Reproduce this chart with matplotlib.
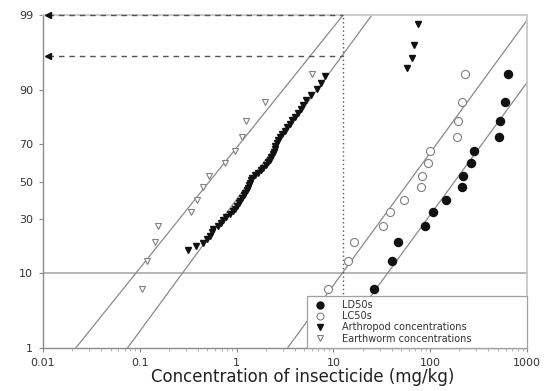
import numpy as np
import matplotlib
matplotlib.use("Agg")
import matplotlib.pyplot as plt
from matplotlib.lines import Line2D
from statistics import NormalDist

# ---- data -------------------------------------------------------------
rank_pct = [6.7, 13.3, 20.0, 26.7, 33.3, 40.0, 46.7, 53.3, 60.0, 66.7, 73.3, 80.0, 86.7, 93.3]

ld50_conc = [26.2, 40.2, 46.3, 87.7, 108, 144, 214, 218, 266, 286, 515, 528, 594, 638]
lc50_conc = [8.85, 14.2, 16.4, 32.5, 38.3, 53.3, 80.0, 81.6, 95.0, 98.6, 191, 196, 215, 231]
earthworm_conc = [0.106, 0.120, 0.145, 0.155, 0.339, 0.390, 0.450, 0.518,
                  0.757, 0.959, 1.13, 1.24, 1.95, 6.06]

arthropod_pct = [16.9, 18.3, 19.7, 21.1, 22.5, 23.9, 25.4, 26.8, 28.2, 29.6,
                 31.0, 32.4, 33.8, 35.2, 36.6, 38.0, 39.4, 40.8, 42.3, 43.7,
                 45.1, 46.5, 47.9, 49.3, 50.7, 52.1, 53.5, 54.9, 56.3, 57.7,
                 59.2, 60.6, 62.0, 63.4, 64.8, 66.2, 67.6, 69.0, 70.4, 71.8,
                 73.2, 74.6, 76.1, 77.5, 78.9, 80.3, 81.7, 83.1, 84.5, 85.9,
                 87.3, 88.7, 90.1, 91.5, 93.0, 94.4, 95.8, 97.2, 98.6]
arthropod_conc = [0.315, 0.381, 0.450, 0.494, 0.531, 0.556, 0.570, 0.641, 0.688, 0.721,
                  0.774, 0.851, 0.914, 0.959, 1.005, 1.054, 1.092, 1.13, 1.185, 1.213,
                  1.27, 1.30, 1.334, 1.367, 1.40, 1.432, 1.54, 1.65, 1.77, 1.86,
                  1.995, 2.09, 2.19, 2.27, 2.35, 2.44, 2.47, 2.52, 2.59, 2.68,
                  2.78, 2.91, 3.13, 3.35, 3.52, 3.77, 4.05, 4.35, 4.67, 4.90,
                  5.26, 5.92, 6.82, 7.50, 8.24, 57.3, 64.4, 67.6, 74.3]

# fitted log-probit lines, given by their 1 % and 99 % concentrations
fit_pct = [1, 99]
earthworm_fit = [0.0218, 12.6]
arthropod_fit = [0.0746, 25.0]
lc50_fit = [3.36, 1096]
ld50_fit = [9.86, 3240]

soil_conc = 12.6            # reference soil concentration
protect_levels = [99, 96]
hazard_level = 10

x_ticks = [0.01, 0.1, 1, 10, 100, 1000]
x_tick_labels = ["0.01", "0.1", "1", "10", "100", "1000"]
y_ticks = [1, 10, 30, 50, 70, 90, 99]
y_tick_labels = ["1", "10", "30", "50", "70", "90", "99"]

# ---- probit scale -----------------------------------------------------
_nd = NormalDist()
_ppf = np.vectorize(_nd.inv_cdf, otypes=[float])
_cdf = np.vectorize(_nd.cdf, otypes=[float])


def probit_fwd(p):
    p = np.clip(np.asarray(p, dtype=float) / 100.0, 1e-9, 1 - 1e-9)
    return _ppf(p)


def probit_inv(z):
    return _cdf(np.asarray(z, dtype=float)) * 100.0


# ---- figure -----------------------------------------------------------
plt.rcParams["font.family"] = ["DejaVu Sans"]
fig = plt.figure(figsize=(5.44, 3.91), dpi=100)
ax = fig.add_axes([43 / 544, 1 - 348 / 391, (527 - 43) / 544, (348 - 15) / 391])
ax.set_xscale("log")
ax.set_yscale("function", functions=(probit_fwd, probit_inv))
ax.set_xlim(0.01, 1000)
ax.set_ylim(1, 99)

line_kw = dict(color="#8a8a8a", lw=0.9, zorder=2)
ax.plot(earthworm_fit, fit_pct, **line_kw)
ax.plot(arthropod_fit, fit_pct, **line_kw)
ax.plot(lc50_fit, fit_pct, **line_kw)
ax.plot(ld50_fit, fit_pct, **line_kw)

ax.axhline(hazard_level, color="#b0b0b0", lw=1.3, zorder=1)

# reference concentration and the protection levels it gives
ax.plot([soil_conc, soil_conc], [1, 99], color="#555555", lw=1.0,
        ls=(0, (1, 2)), zorder=3)
for lvl in protect_levels:
    ax.plot([0.0112, soil_conc], [lvl, lvl], color="#555555", lw=1.0,
            ls=(0, (4, 3.5)), zorder=3, clip_on=False)
    ax.plot([0.0112], [lvl], marker="<", ms=4.5, color="#111111",
            zorder=4, clip_on=False)

ax.plot(ld50_conc, rank_pct, ls="none", marker="o", ms=5.8,
        mfc="#111111", mec="#111111", zorder=5)
ax.plot(lc50_conc, rank_pct, ls="none", marker="o", ms=5.8,
        mfc="white", mec="#808080", mew=0.8, zorder=5)
ax.plot(arthropod_conc, arthropod_pct, ls="none", marker="v", ms=4.5,
        mfc="#111111", mec="#111111", zorder=5)
ax.plot(earthworm_conc, rank_pct, ls="none", marker="v", ms=4.5,
        mfc="white", mec="#808080", mew=0.8, zorder=5)

# axes styling
ax.set_xticks(x_ticks)
ax.set_xticklabels(x_tick_labels)
ax.set_yticks(y_ticks)
ax.set_yticklabels(y_tick_labels)
ax.yaxis.set_minor_locator(matplotlib.ticker.NullLocator())
ax.tick_params(axis="both", which="major", labelsize=8, length=3,
               color="#888888", labelcolor="#333333", pad=4)
ax.tick_params(axis="x", which="minor", length=2, color="#aaaaaa")
for side in ["left", "bottom"]:
    ax.spines[side].set_color("#8c8c8c")
    ax.spines[side].set_linewidth(1.0)
for side in ["top", "right"]:
    ax.spines[side].set_color("#c8c8c8")
    ax.spines[side].set_linewidth(1.3)

ax.set_xlabel("Concentration of insecticide (mg/kg)", fontsize=12,
              color="#222222", labelpad=0.5)
ax.xaxis.label.set_x(0.537)

handles = [
    Line2D([], [], ls="none", marker="o", ms=5, mfc="#111111", mec="#111111"),
    Line2D([], [], ls="none", marker="o", ms=5, mfc="white", mec="#808080", mew=0.8),
    Line2D([], [], ls="none", marker="v", ms=4, mfc="#111111", mec="#111111"),
    Line2D([], [], ls="none", marker="v", ms=4.5, mfc="white", mec="#808080", mew=0.8),
]
labels = ["LD50s", "LC50s", "Arthropod concentrations", "Earthworm concentrations"]
leg = ax.legend(handles, labels, loc="lower left",
                bbox_to_anchor=(0.545, 0.0, 0.455, 0.15), mode="expand",
                borderaxespad=0, fontsize=7, labelspacing=0.12,
                handlelength=1.8, handletextpad=1.4, borderpad=0.45,
                frameon=True, fancybox=False, framealpha=1)
leg.get_frame().set_edgecolor("#a0a0a0")
leg.get_frame().set_linewidth(0.9)
for t in leg.get_texts():
    t.set_color("#333333")
leg.set_zorder(10)

fig.savefig("out.png", dpi=100)
